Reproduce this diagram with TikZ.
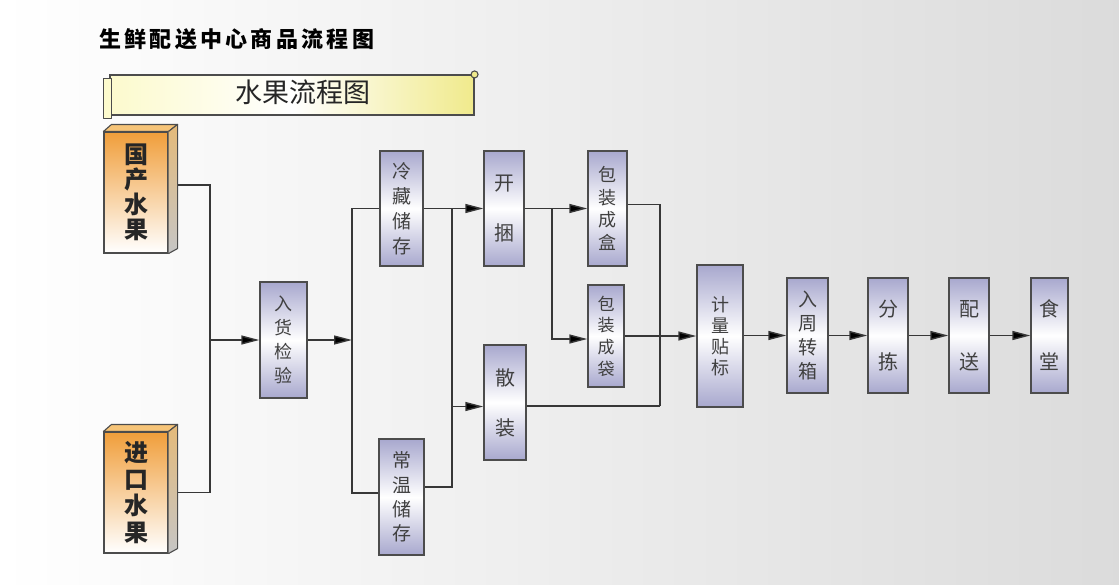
\documentclass[tikz,border=0pt]{standalone}
\usepackage{fontspec}
\setmainfont{Noto Sans CJK SC}
\usetikzlibrary{arrows.meta,calc}
\definecolor{procC}{RGB}{168,168,206}
\definecolor{srcC}{RGB}{240,158,58}
\definecolor{srcTop}{RGB}{246,196,120}
\definecolor{lineC}{RGB}{55,55,55}
\definecolor{scrollL}{RGB}{252,250,205}
\definecolor{scrollR}{RGB}{240,234,140}
\tikzset{
  line/.style={draw=lineC, line width=1.4pt},
  arr/.style={line, -{Triangle[length=18pt,width=9pt,fill=black]}},
  proc/.style={draw=black!70, line width=1.4pt, top color=procC, bottom color=procC, middle color=white,
    inner sep=0pt, align=center, text=black!75},
  src/.style={draw=black!70, line width=1.1pt, top color=srcC, bottom color=white,
    minimum width=64pt, minimum height=121pt, inner sep=0pt, align=center, text=black!85,
    font=\fontsize{24}{25}\selectfont\bfseries},
  face/.style={draw=black!70, line width=1.1pt, line join=round},
}
\begin{document}
\begin{tikzpicture}[x=1pt,y=-1pt]
\shade[left color=white, right color=gray!28] (0,0) rectangle (1119,584);
\useasboundingbox (0,0) rectangle (1119,584);

% title
\node[anchor=west, inner sep=0pt, font=\fontsize{22}{22}\selectfont\bfseries\addfontfeature{LetterSpace=15}] (title) at (99,39) {生鲜配送中心商品流程图};

% banner scroll
\node[draw=black!70, line width=1.1pt, left color=scrollL, right color=scrollR, middle color=white,
  minimum width=364pt, minimum height=40pt, inner sep=0pt] (ban) at (292,95) {};
\draw[face, fill=scrollL] ($(ban.north west)+(-6,4)$) rectangle ($(ban.south west)+(2,3)$);
\draw[face, fill=scrollR] ($(ban.north east)+(0,0)$) circle[radius=3.5];
\node[font=\fontsize{27}{27}\selectfont, inner sep=0pt, text=black!85] (bantext) at (303,92) {水果流程图};

% source 3D boxes
\node[src] (gc) at (136,192.5) {国\\产\\水\\果};
\node[src, font=\fontsize{24}{26.7}\selectfont\bfseries] (jk) at (136,492.5) {进\\口\\水\\果};
\foreach \n in {gc,jk}{
  \draw[face, fill=srcTop] (\n.north west) -- ++(8,-7) -- ($(\n.north east)+(9,-7)$) -- (\n.north east) -- cycle;
  \shade[top color=srcTop!85!gray, bottom color=gray!45] (\n.north east) -- ++(9,-7) -- ($(\n.south east)+(9,-5)$) -- (\n.south east) -- cycle;
  \draw[face] (\n.north east) -- ++(9,-7) -- ($(\n.south east)+(9,-5)$) -- (\n.south east);
}

% process boxes
\node[proc, minimum width=47pt, minimum height=116pt, font=\fontsize{18}{24}\selectfont] (rh) at (283.5,340) {入\\货\\检\\验};
\node[proc, minimum width=43pt, minimum height=115pt, font=\fontsize{19}{25}\selectfont] (lc) at (401.5,208.5) {冷\\藏\\储\\存};
\node[proc, minimum width=45pt, minimum height=116pt, font=\fontsize{19}{24.3}\selectfont] (cw) at (401.5,497) {常\\温\\储\\存};
\node[proc, minimum width=40pt, minimum height=115pt, font=\fontsize{20}{24}\selectfont] (kk) at (504,208.5) {开\\[26pt]捆};
\node[proc, minimum width=42pt, minimum height=115pt, font=\fontsize{20}{24}\selectfont] (sz) at (505,402.5) {散\\[26pt]装};
\node[proc, minimum width=39pt, minimum height=115pt, font=\fontsize{18}{22.7}\selectfont] (bh) at (607.5,208.5) {包\\装\\成\\盒};
\node[proc, minimum width=36pt, minimum height=102pt, font=\fontsize{17}{21.7}\selectfont] (bd) at (606,336) {包\\装\\成\\袋};
\node[proc, minimum width=46pt, minimum height=142pt, font=\fontsize{18}{21}\selectfont] (jl) at (720,336) {计\\量\\贴\\标};
\node[proc, minimum width=41pt, minimum height=115pt, font=\fontsize{19}{24.3}\selectfont] (rz) at (807.5,335.5) {入\\周\\转\\箱};
\node[proc, minimum width=40pt, minimum height=115pt, font=\fontsize{20}{24}\selectfont] (fj) at (888,335.5) {分\\[29pt]拣};
\node[proc, minimum width=40pt, minimum height=115pt, font=\fontsize{20}{24}\selectfont] (ps) at (969,335.5) {配\\[29pt]送};
\node[proc, minimum width=37pt, minimum height=115pt, font=\fontsize{20}{24}\selectfont] (st) at (1049.5,335.5) {食\\[29pt]堂};

% junctions
\coordinate (j1) at (210,340);
\coordinate (j2) at (352,340);
\coordinate (j3) at (452,208.5);
\coordinate (j4) at (552,208.5);
\coordinate (j5) at (660,406);
\coordinate (s1) at ($(sz.west)+(0,4)$);
\coordinate (b1) at ($(bd.west)+(0,3)$);

% connectors
\draw[line] ($(gc.east)+(9,-7.5)$) -| (j1);
\draw[line] ($(jk.east)+(9,0)$) -| (j1);
\draw[arr] (j1) -- (rh.west);
\draw[arr] (rh.east) -- (j2);
\draw[line] (lc.west) -| (j2);
\draw[line] ($(cw.west)+(0,-4)$) -| (j2);
\draw[arr] (lc.east) -- (kk.west);
\draw[line] (j3) |- ($(cw.east)+(0,-10)$);
\draw[arr] (j3 |- s1) -- (s1);
\draw[arr] (kk.east) -- (bh.west);
\draw[arr] (j4) |- (b1);
\draw[line] ($(bh.east)+(0,-4)$) -| (j5);
\draw[line] ($(sz.east)+(0,3.5)$) -- (j5);
\draw[arr] (bd.east) -- (jl.west);
\draw[arr] (jl.east |- rz.west) -- (rz.west);
\draw[arr] (rz.east) -- (fj.west);
\draw[arr] (fj.east) -- (ps.west);
\draw[arr] (ps.east) -- (st.west);
\end{tikzpicture}
\end{document}
